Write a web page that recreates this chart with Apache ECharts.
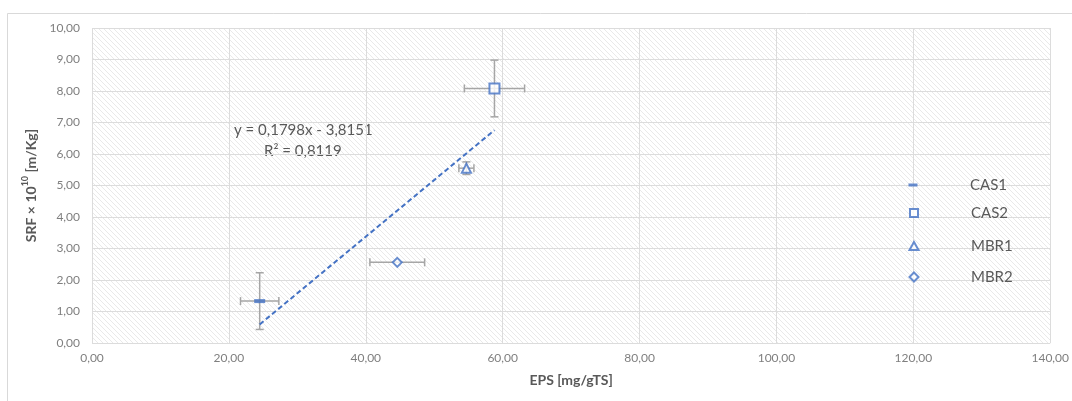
<!DOCTYPE html>
<html>
<head>
<meta charset="utf-8">
<script src="https://cdn.jsdelivr.net/npm/echarts@6/dist/echarts.min.js"></script>
<style>
html,body{margin:0;padding:0;background:#fff;}
#chart{width:1072px;height:401px;}
</style>
</head>
<body>
<div id="chart"></div>
<script>
// ---- data ----
const seriesNames = ['CAS1', 'CAS2', 'MBR1', 'MBR2'];
const epsValues   = [24.5, 58.8, 54.7, 44.6];   // x (EPS mg/gTS)
const srfValues   = [1.33, 8.08, 5.55, 2.56];   // y (SRF x 10^10 m/Kg)
const epsErrors   = [2.8, 4.4, 1.1, 4.0];       // x error (+/-)
const srfErrors   = [0.9, 0.9, 0.2, 0];         // y error (+/-)
const trendSlope = 0.1798;
const trendIntercept = -3.8151;
const trendLabel = ['y = 0,1798x - 3,8151', 'R² = 0,8119'];
const xTicks = [0, 20, 40, 60, 80, 100, 120, 140];
const yTicks = [0, 1, 2, 3, 4, 5, 6, 7, 8, 9, 10];

const blue = '#4472C4';
const grey = '#595959';
const fontFam = 'Lato, "Open Sans", sans-serif';

// hatch pattern for plot area
const tile = document.createElement('canvas');
tile.width = 5; tile.height = 5;
const tc = tile.getContext('2d');
tc.fillStyle = '#ffffff'; tc.fillRect(0, 0, 5, 5);
tc.strokeStyle = '#e9e9e9'; tc.lineWidth = 1;
tc.beginPath();
tc.moveTo(-1, -1); tc.lineTo(6, 6);
tc.moveTo(-1, 4); tc.lineTo(1, 6);
tc.moveTo(4, -1); tc.lineTo(6, 1);
tc.stroke();

const fmt = v => v.toFixed(2).replace('.', ',');

const symbolDefs = {
  CAS1: { symbol: 'rect', symbolSize: [11, 4], itemStyle: { color: blue } },
  CAS2: { symbol: 'rect', symbolSize: 10, itemStyle: { color: '#fff', borderColor: blue, borderWidth: 2 } },
  MBR1: { symbol: 'triangle', symbolSize: 9, itemStyle: { color: '#fff', borderColor: blue, borderWidth: 2 } },
  MBR2: { symbol: 'diamond', symbolSize: 9, itemStyle: { color: '#fff', borderColor: blue, borderWidth: 2 } }
};

const errData = seriesNames.map((n, i) => [epsValues[i], srfValues[i], epsErrors[i], srfErrors[i]]);

const xMin = Math.min(...epsValues), xMax = Math.max(...epsValues);
const trendData = [[xMin, trendSlope * xMin + trendIntercept], [xMax, trendSlope * xMax + trendIntercept]];

const scatterSeries = seriesNames.map((n, i) => Object.assign({
  name: n, type: 'scatter', z: 5,
  data: [[epsValues[i], srfValues[i]]]
}, symbolDefs[n]));

// legend placement
const legendCentersY = [185, 213, 246, 277];
const legendIconX = 913, legendTextX = 970;
const legendSizes = { CAS1: [9, 3], CAS2: [8, 8], MBR1: [9, 8], MBR2: [9, 9] };
const legends = seriesNames.map((n, i) => {
  const [w, h] = legendSizes[n];
  const left = legendIconX - w / 2 - 5;
  return {
    data: [{ name: n, icon: symbolDefs[n].symbol }],
    left: left, top: legendCentersY[i] - 14,
    itemWidth: w, itemHeight: h,
    selectedMode: false,
    textStyle: { color: grey, fontSize: 15, fontFamily: fontFam, padding: [0, 0, 0, legendTextX - (left + 5 + w + 5)], lineHeight: 18 }
  };
});

const chart = echarts.init(document.getElementById('chart'));
chart.setOption({
  animation: false,
  backgroundColor: '#fff',
  grid: { left: 92, right: 19, top: 28, bottom: 58, show: true, borderWidth: 0,
          backgroundColor: { image: tile, repeat: 'repeat' } },
  legend: legends,
  graphic: [
    { type: 'rect', shape: { x: 7.5, y: 13.5, width: 1100, height: 400 }, style: { fill: 'none', stroke: '#d9d9d9', lineWidth: 1 }, z: -1, silent: true },
    { type: 'text', left: 234, top: 123, style: { text: trendLabel[0], fill: grey, font: '15px ' + fontFam } },
    { type: 'text', left: 264, top: 144, style: { text: trendLabel[1], fill: grey, font: '15px ' + fontFam } }
  ],
  xAxis: {
    type: 'value', min: xTicks[0], max: xTicks[xTicks.length - 1], interval: 20,
    name: 'EPS [mg/gTS]', nameLocation: 'middle', nameGap: 30,
    nameTextStyle: { color: grey, fontSize: 14, fontWeight: 'bold', fontFamily: fontFam },
    axisLine: { show: false }, axisTick: { show: false },
    axisLabel: { color: '#7f7f7f', fontSize: 12, fontFamily: fontFam, margin: 9, formatter: fmt },
    splitLine: { show: true, lineStyle: { color: '#dcdcdc', width: 1 } }
  },
  yAxis: {
    type: 'value', min: yTicks[0], max: yTicks[yTicks.length - 1], interval: 1,
    name: '{n|SRF × 10}{s|10}{n| [m/Kg]}', nameLocation: 'middle', nameGap: 42,
    nameTextStyle: { color: grey, fontFamily: fontFam,
      rich: { n: { fontSize: 14, fontWeight: 'bold', color: grey, fontFamily: fontFam, lineHeight: 18, verticalAlign: 'bottom' },
              s: { fontSize: 9, fontWeight: 'bold', color: grey, fontFamily: fontFam, lineHeight: 18, verticalAlign: 'top' } } },
    axisLine: { show: false }, axisTick: { show: false },
    axisLabel: { color: '#7f7f7f', fontSize: 12, fontFamily: fontFam, margin: 12, formatter: fmt },
    splitLine: { show: true, lineStyle: { color: '#dcdcdc', width: 1 } }
  },
  series: [
    {
      type: 'custom', z: 2, silent: true,
      data: errData,
      encode: { x: 0, y: 1 },
      renderItem: function (params, api) {
        const x = api.value(0), y = api.value(1), ex = api.value(2), ey = api.value(3);
        const style = { stroke: '#a6a6a6', lineWidth: 1.5, fill: 'none' };
        const children = [];
        const cap = 4;
        if (ex > 0) {
          const a = api.coord([x - ex, y]), b = api.coord([x + ex, y]);
          children.push({ type: 'line', shape: { x1: a[0], y1: a[1], x2: b[0], y2: b[1] }, style });
          children.push({ type: 'line', shape: { x1: a[0], y1: a[1] - cap, x2: a[0], y2: a[1] + cap }, style });
          children.push({ type: 'line', shape: { x1: b[0], y1: b[1] - cap, x2: b[0], y2: b[1] + cap }, style });
        }
        if (ey > 0) {
          const a = api.coord([x, y - ey]), b = api.coord([x, y + ey]);
          children.push({ type: 'line', shape: { x1: a[0], y1: a[1], x2: b[0], y2: b[1] }, style });
          children.push({ type: 'line', shape: { x1: a[0] - cap, y1: a[1], x2: a[0] + cap, y2: a[1] }, style });
          children.push({ type: 'line', shape: { x1: b[0] - cap, y1: b[1], x2: b[0] + cap, y2: b[1] }, style });
        }
        return { type: 'group', children };
      }
    },
    {
      type: 'line', name: 'trend', z: 3, silent: true,
      data: trendData, showSymbol: false, symbol: 'none',
      lineStyle: { color: blue, width: 2, type: [5, 3] }
    }
  ].concat(scatterSeries)
});
</script>
</body>
</html>
